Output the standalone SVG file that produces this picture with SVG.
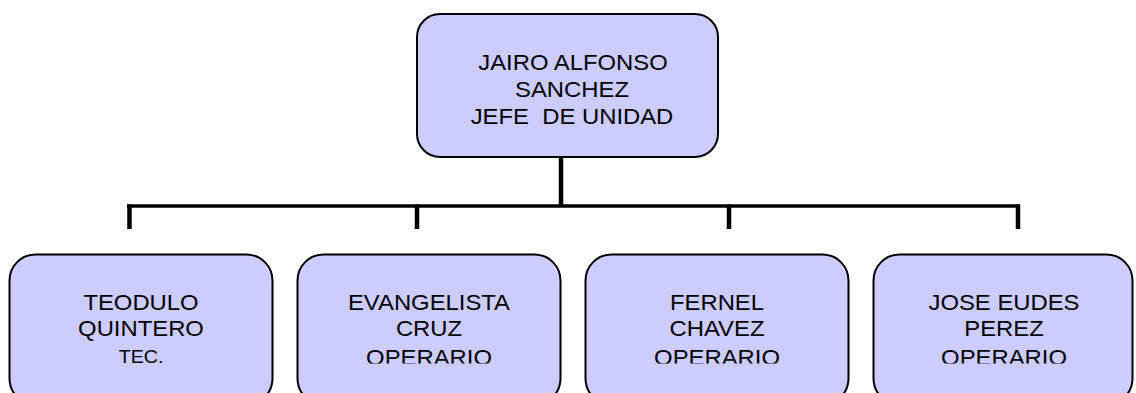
<svg xmlns="http://www.w3.org/2000/svg" width="1136" height="393" viewBox="0 0 1136 393">
<style>
.box{fill:#CCCCFF;stroke:#000;stroke-width:2}
.t{font-family:"Liberation Sans",Arial,sans-serif;font-size:22.5px;fill:#000;text-anchor:middle}
.s{font-size:18.5px}
.ln{stroke:#000;fill:none;stroke-linecap:butt}
</style>
<defs>
<clipPath id="clipBottom"><rect x="0" y="0" width="1136" height="363.5"/></clipPath>
</defs>
<rect x="0" y="0" width="1136" height="393" fill="#fff"/>
<g id="connectors">
<line class="ln" x1="561" y1="157" x2="561" y2="207" stroke-width="4.5"/>
<line class="ln" x1="127" y1="206" x2="1020" y2="206" stroke-width="3.5"/>
<line class="ln" x1="129.5" y1="204.5" x2="129.5" y2="229" stroke-width="4.5"/>
<line class="ln" x1="417" y1="204.5" x2="417" y2="229" stroke-width="4.5"/>
<line class="ln" x1="729" y1="204.5" x2="729" y2="229" stroke-width="4.5"/>
<line class="ln" x1="1018" y1="204.5" x2="1018" y2="229" stroke-width="4.5"/>
</g>
<g id="node-jairo">
<rect class="box" x="417" y="14" width="301" height="143" rx="23" ry="23"/>
<text class="t" transform="matrix(1.06 0 0 1 573 69.5)">JAIRO ALFONSO</text>
<text class="t" transform="matrix(1.06 0 0 1 572 97)">SANCHEZ</text>
<text class="t" transform="matrix(1.06 0 0 1 572 123.5)" xml:space="preserve">JEFE  DE UNIDAD</text>
</g>
<g id="node-teodulo">
<rect class="box" x="9.5" y="254.5" width="263" height="150" rx="26" ry="26"/>
<g clip-path="url(#clipBottom)">
<text class="t" transform="matrix(1.06 0 0 1 141 309.5)">TEODULO</text>
<text class="t" transform="matrix(1.06 0 0 1 141 336)">QUINTERO</text>
<text class="t s" transform="matrix(1.06 0 0 1 141 362.7)">TEC.</text>
</g>
</g>
<g id="node-evangelista">
<rect class="box" x="297.5" y="254.5" width="263" height="150" rx="26" ry="26"/>
<g clip-path="url(#clipBottom)">
<text class="t" transform="matrix(1.06 0 0 1 429 309.5)">EVANGELISTA</text>
<text class="t" transform="matrix(1.06 0 0 1 429 336)">CRUZ</text>
<text class="t" transform="matrix(1.06 0 0 1 429 364.5)">OPERARIO</text>
</g>
</g>
<g id="node-fernel">
<rect class="box" x="585.5" y="254.5" width="263" height="150" rx="26" ry="26"/>
<g clip-path="url(#clipBottom)">
<text class="t" transform="matrix(1.06 0 0 1 717 309.5)">FERNEL</text>
<text class="t" transform="matrix(1.06 0 0 1 717 336)">CHAVEZ</text>
<text class="t" transform="matrix(1.06 0 0 1 717 364.5)">OPERARIO</text>
</g>
</g>
<g id="node-jose">
<rect class="box" x="873.5" y="254.5" width="259" height="150" rx="26" ry="26"/>
<g clip-path="url(#clipBottom)">
<text class="t" transform="matrix(1.06 0 0 1 1004 309.5)">JOSE EUDES</text>
<text class="t" transform="matrix(1.06 0 0 1 1004 336)">PEREZ</text>
<text class="t" transform="matrix(1.06 0 0 1 1004 364.5)">OPERARIO</text>
</g>
</g>
</svg>
